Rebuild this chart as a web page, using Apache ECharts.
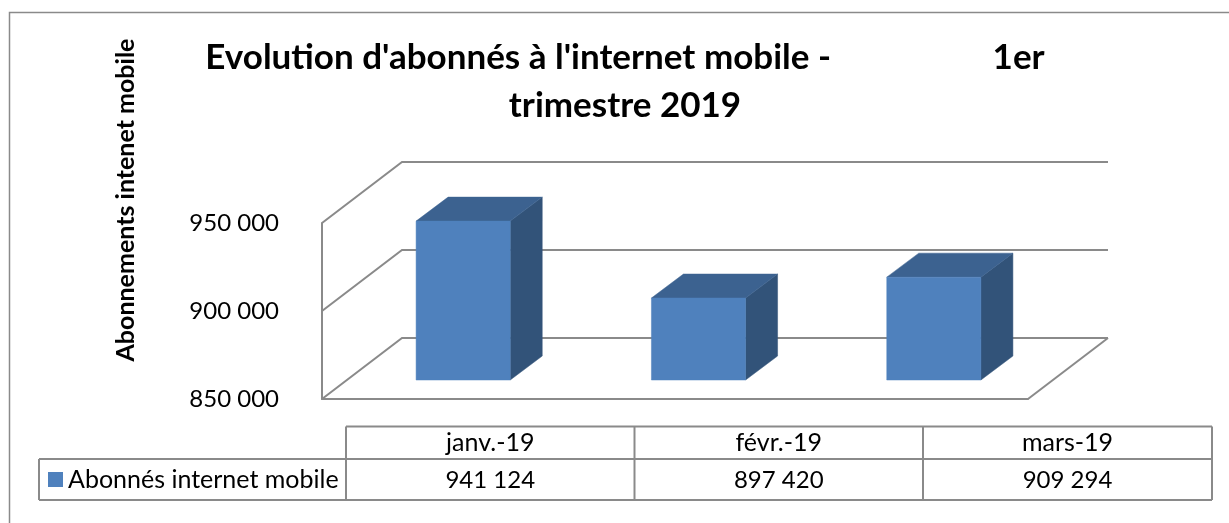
<!DOCTYPE html>
<html>
<head>
<meta charset="utf-8">
<style>
  html, body { margin: 0; padding: 0; background: #fff; }
  #chart { width: 1229px; height: 523px; }
</style>
<script src="https://cdn.jsdelivr.net/npm/echarts@6/dist/echarts.min.js"></script>
</head>
<body>
<div id="chart"></div>
<script>
const categories = ['janv.-19', 'févr.-19', 'mars-19']
const abonnes = [941124, 897420, 909294]
const yTicks = [850000, 900000, 950000]
const seriesName = 'Abonnés internet mobile'
const titleText = "Evolution d'abonnés à l'internet mobile -                   1er\ntrimestre 2019"
const yName = 'Abonnements intenet mobile'

const FONT = 'Lato, "Open Sans", sans-serif'
const GRAY = '#8a8a8a'
const WALL = { dx: 80, dy: 61 } // depth of the floor
const BAR = { dx: 23.5, baseY: 19, topY: 17.5, sideX: 32, sideY: 24 } // bar position inside the depth

const fmt = v => String(v).replace(/\B(?=(\d{3})+$)/g, ' ')

// gridlines on the side wall and back wall, one per tick
function renderWall (params, api) {
  const cs = params.coordSys
  const y = api.coord([0, api.value(0)])[1]
  const right = cs.x + cs.width
  const style = { stroke: GRAY, lineWidth: 2, fill: null }
  const kids = [{
    type: 'polyline',
    shape: { points: [[cs.x, y], [cs.x + WALL.dx, y - WALL.dy], [right + WALL.dx, y - WALL.dy]] },
    style
  }]
  if (params.dataIndex === 0) {
    kids.push({
      type: 'line',
      shape: { x1: right, y1: y, x2: right + WALL.dx, y2: y - WALL.dy },
      style
    })
  }
  return { type: 'group', children: kids }
}

function renderBar (params, api) {
  const base = api.coord([params.dataIndex, yTicks[0]])
  const top = api.coord([params.dataIndex, api.value(1)])
  const w = api.size([1, 0])[0] / 2.5
  const x0 = base[0] - w / 2 + BAR.dx
  const x1 = x0 + w
  const y0 = base[1] - BAR.baseY
  const y1 = top[1] - BAR.topY
  const poly = (points, color) => ({
    type: 'polygon',
    shape: { points },
    style: { fill: color, stroke: color, lineWidth: 0.5 }
  })
  return {
    type: 'group',
    children: [
      poly([[x1, y0], [x1 + BAR.sideX, y0 - BAR.sideY], [x1 + BAR.sideX, y1 - BAR.sideY], [x1, y1]], '#325379'),
      poly([[x0, y1], [x1, y1], [x1 + BAR.sideX, y1 - BAR.sideY], [x0 + BAR.sideX, y1 - BAR.sideY]], '#3C6290'),
      poly([[x0, y0], [x1, y0], [x1, y1], [x0, y1]], '#4F81BD')
    ]
  }
}

// data table under the plot
function tableGraphics () {
  const cols = [346, 634.5, 923, 1212]
  const rows = [426.5, 459, 500]
  const line = (x1, y1, x2, y2) => ({
    type: 'line',
    shape: { x1, y1, x2, y2 },
    style: { stroke: GRAY, lineWidth: 2 }
  })
  const out = [
    line(cols[0], rows[0], cols[3], rows[0]),
    line(39, rows[1], cols[3], rows[1]),
    line(39, rows[2], cols[3], rows[2]),
    line(39, rows[1], 39, rows[2]),
    line(cols[0], rows[0], cols[0], rows[2])
  ]
  categories.forEach((c, i) => {
    out.push(line(cols[i + 1], rows[0], cols[i + 1], rows[2]))
    const cx = (cols[i] + cols[i + 1]) / 2
    out.push({ type: 'text', x: cx, y: 443, style: { text: c, fill: '#000', font: '25px ' + FONT, textAlign: 'center', textVerticalAlign: 'middle' } })
    out.push({ type: 'text', x: cx, y: 480, style: { text: fmt(abonnes[i]), fill: '#000', font: '24px ' + FONT, textAlign: 'center', textVerticalAlign: 'middle' } })
  })
  return out
}

const chart = echarts.init(document.getElementById('chart'), null, { renderer: 'canvas' })
chart.setOption({
  animation: false,
  backgroundColor: '#fff',
  title: {
    text: titleText,
    left: 620,
    top: 29,
    textAlign: 'center',
    textStyle: { fontFamily: FONT, fontWeight: 'bold', fontSize: 35, lineHeight: 48, color: '#000' }
  },
  legend: {
    data: [seriesName],
    left: 48,
    top: 467,
    padding: 0,
    itemWidth: 15,
    itemHeight: 15,
    itemGap: 6,
    icon: 'rect',
    selectedMode: false,
    textStyle: { fontFamily: FONT, fontSize: 25, color: '#000', padding: [0, 0, 0, 0] }
  },
  grid: { left: 322, top: 223, width: 706, height: 176 },
  xAxis: {
    type: 'category',
    data: categories,
    axisLine: { show: true, lineStyle: { color: GRAY, width: 2 } },
    axisTick: { show: false },
    axisLabel: { show: false }
  },
  yAxis: {
    type: 'value',
    min: yTicks[0],
    max: yTicks[2],
    interval: 50000,
    axisLine: { show: true, lineStyle: { color: GRAY, width: 2 } },
    axisTick: { show: false },
    splitLine: { show: false },
    axisLabel: { formatter: fmt, fontFamily: FONT, fontSize: 24, color: '#000', margin: 43, padding: [8, 0, 0, 0] }
  },
  series: [
    {
      type: 'custom',
      silent: true,
      z: 1,
      data: yTicks.map(v => [v]),
      encode: { y: 0 },
      renderItem: renderWall
    },
    {
      type: 'custom',
      name: seriesName,
      silent: true,
      z: 2,
      itemStyle: { color: '#4F81BD' },
      data: abonnes.map((v, i) => [i, v]),
      encode: { x: 0, y: 1 },
      renderItem: renderBar
    }
  ],
  graphic: [
    {
      type: 'rect',
      shape: { x: 9.5, y: 12.5, width: 1300, height: 600 },
      style: { fill: null, stroke: GRAY, lineWidth: 1.5 },
      silent: true,
      z: -1
    },
    {
      type: 'text',
      x: 126,
      y: 200,
      rotation: Math.PI / 2,
      style: { text: yName, fill: '#000', font: 'bold 25px ' + FONT, textAlign: 'center', textVerticalAlign: 'middle' }
    }
  ].concat(tableGraphics())
})
</script>
</body>
</html>
